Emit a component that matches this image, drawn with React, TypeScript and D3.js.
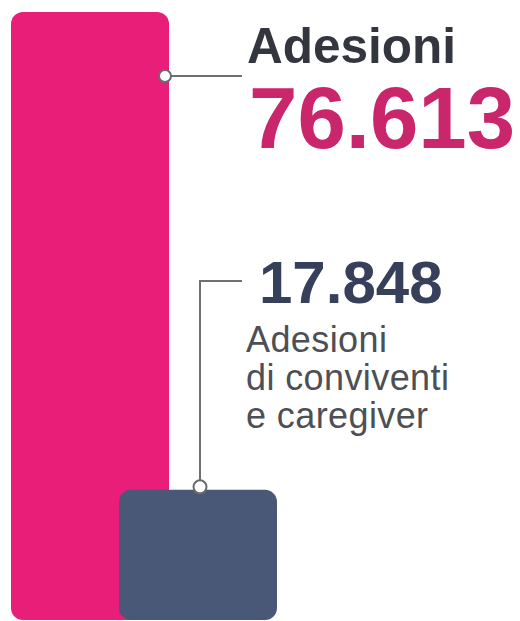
import React from "react";
import * as d3 from "d3";

const categories = ["Adesioni", "Adesioni di conviventi e caregiver"];
const values = [76613, 17848];
const valueLabels = ["76.613", "17.848"];
const captionLines = ["Adesioni", "di conviventi", "e caregiver"];

const W = 520;
const H = 621;

function roundedRectPath(x: number, y: number, w: number, h: number, r: number) {
  const p = d3.path();
  p.moveTo(x + r, y);
  p.lineTo(x + w - r, y);
  p.arcTo(x + w, y, x + w, y + r, r);
  p.lineTo(x + w, y + h - r);
  p.arcTo(x + w, y + h, x + w - r, y + h, r);
  p.lineTo(x + r, y + h);
  p.arcTo(x, y + h, x, y + h - r, r);
  p.lineTo(x, y + r);
  p.arcTo(x, y, x + r, y, r);
  p.closePath();
  return p.toString();
}

export default function App() {
  const y = d3.scaleLinear().domain([0, values[0]]).range([635, 12]);
  const x = d3.scaleLinear().domain([0, 1]).range([11, 119]);
  const barW = 158;
  const visibleBottom = 620;
  const colors = ["#e91e78", "#4a5878"];
  const font = "'Liberation Sans', Arial, Helvetica, sans-serif";

  const pinkTop = y(values[0]);
  const blueTop = y(values[1]);
  const pinkCircle = { cx: x(0) + barW - 4, cy: pinkTop + 64 };
  const blueCircle = { cx: x(1) + 81, cy: blueTop - 3 };

  return (
    <svg
      width={W}
      height={H}
      style={{ position: "absolute", left: 0, top: 0, background: "#ffffff" }}
      fontFamily={font}
    >
      {values.map((v, i) => (
        <path
          key={categories[i]}
          d={roundedRectPath(x(i), y(v), barW, Math.min(y(0), visibleBottom) - y(v), 12)}
          fill={colors[i]}
        />
      ))}

      <line x1={pinkCircle.cx} y1={pinkCircle.cy} x2={242} y2={pinkCircle.cy} stroke="#707070" strokeWidth={2} />
      <circle cx={pinkCircle.cx} cy={pinkCircle.cy} r={6} fill="#ffffff" stroke="#6b6b6b" strokeWidth={2} />

      <polyline
        points={`${blueCircle.cx},${blueCircle.cy} ${blueCircle.cx},281 242,281`}
        fill="none"
        stroke="#707070"
        strokeWidth={2}
      />
      <circle cx={blueCircle.cx} cy={blueCircle.cy} r={6.5} fill="#ffffff" stroke="#6b6b6b" strokeWidth={2} />

      <text x={247} y={63} fontSize={49.5} fontWeight="bold" fill="#33363f">
        {categories[0]}
      </text>
      <text x={249} y={148} fontSize={87} fontWeight="bold" fill="#c9266b">
        {valueLabels[0]}
      </text>
      <text x={259} y={303} fontSize={60} fontWeight="bold" fill="#36405a">
        {valueLabels[1]}
      </text>
      {captionLines.map((line, i) => (
        <text key={line} x={246} y={352 + i * 38} fontSize={36} letterSpacing={0.4} fill="#4d4f55">
          {line}
        </text>
      ))}
    </svg>
  );
}
